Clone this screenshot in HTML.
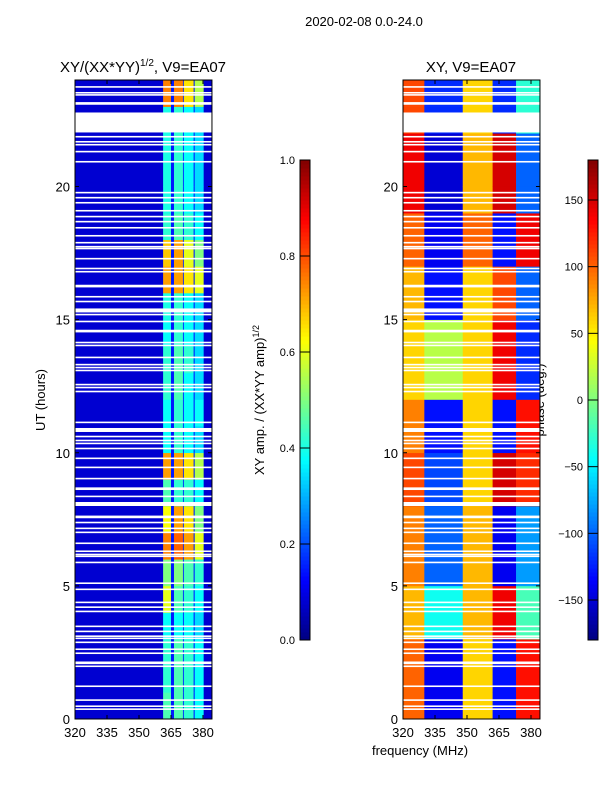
<!DOCTYPE html>
<html><head><meta charset="utf-8">
<style>
body{margin:0;background:#fff;}
svg{display:block;font-family:"Liberation Sans","DejaVu Sans",sans-serif;}
</style></head>
<body>
<svg id="fig" width="600" height="800" viewBox="0 0 600 800" xmlns="http://www.w3.org/2000/svg">
  <rect width="600" height="800" fill="#fff"/>
  <text x="364" y="26" font-size="13" text-anchor="middle">2020-02-08 0.0-24.0</text>
  <text x="143" y="72" font-size="15" text-anchor="middle">XY/(XX*YY)<tspan font-size="10" dy="-6">1/2</tspan><tspan dy="6">, V9=EA07</tspan></text>
  <text x="471" y="72" font-size="15" text-anchor="middle">XY, V9=EA07</text>
  <text transform="translate(45,400) rotate(-90)" font-size="13" text-anchor="middle">UT (hours)</text>
  <text transform="translate(264,400) rotate(-90)" font-size="13" text-anchor="middle">XY amp. / (XX*YY amp)<tspan font-size="9" dy="-5">1/2</tspan></text>
  <text transform="translate(544,400) rotate(-90)" font-size="13" text-anchor="middle">phase (deg.)</text>
  <text x="420" y="755" font-size="13" text-anchor="middle">frequency (MHz)</text>
  <g id="left"></g>
  <g id="right"></g>
  <g id="cb1"></g>
  <g id="cb2"></g>
</svg>
<script>
// ---- data ----
const xTicks = [320, 335, 350, 365, 380];
const yTicks = [0, 5, 10, 15, 20];
const ampTicks = [0.0, 0.2, 0.4, 0.6, 0.8, 1.0];
const phaseTicks = [-150, -100, -50, 0, 50, 100, 150];
const hours = [0,1,2,3,4,5,6,7,8,9,10,11,12,13,14,15,16,17,18,19,20,21,22,23];
// amplitude bands (MHz edges)
const ampBandEdges = [[361.3,365],[366.4,370.6],[371,375.6],[376.1,380.3]];
const ampBand1 = [.45,.42,.42,.38,.6,.5,.75,.62,.45,.72,.38,.38,.42,.42,.38,.4,.72,.68,.42,.4,.4,.4,.4,.75];
const ampBand2 = [.45,.45,.45,.38,.45,.5,.78,.72,.42,.72,.42,.42,.45,.45,.42,.42,.72,.72,.45,.42,.42,.42,.42,.75];
const ampBand3 = [.42,.42,.42,.38,.42,.45,.72,.65,.42,.65,.38,.38,.38,.42,.38,.38,.65,.6,.42,.38,.38,.38,.38,.65];
const ampBand4 = [.38,.38,.38,.34,.38,.42,.6,.5,.38,.55,.34,.38,.34,.34,.34,.34,.6,.5,.38,.34,.34,.34,.34,.55];
const ampBackground = 0.08;
const ampGap = 0.15;
// phase regions (MHz edges)
const phaseRegionEdges = [[320,330],[330,348],[348,362],[362,373],[373,384.2]];
const phaseA = [100,100,100,70,70,90,90,90,110,110,90,90,60,60,60,70,70,100,100,140,140,140,110,110];
const phaseB = [-140,-140,-140,-40,-40,-100,-100,-100,-110,-110,-130,-130,20,20,20,-130,-130,-140,-140,-150,-150,-150,-120,-120];
const phaseC = [60,60,60,70,70,70,70,70,60,60,60,60,60,60,60,60,60,100,100,70,70,70,60,60];
const phaseD = [-130,-130,-130,140,140,-140,-140,-140,150,150,-130,-130,140,140,140,110,110,-130,-130,150,150,150,-120,-120];
const phaseE = [130,130,130,-20,-20,-80,-80,-80,120,120,130,130,-120,-120,-120,-100,-100,140,140,-100,-100,-100,-30,-30];
// flagged (blank) time intervals: start hour, duration
const flagStart = [23.71,23.49,23.41,23.11,23.07,22.03,21.84,21.65,21.54,21.28,20.90,19.74,19.55,19.36,19.06,18.84,18.65,18.42,18.12,17.86,17.71,17.64,17.26,16.89,16.77,16.25,16.21,15.83,15.65,15.27,15.16,14.90,14.56,14.52,14.11,14.0,13.55,13.28,13.17,13.06,12.53,12.42,12.27,11.11,10.78,10.58,10.43,10.32,10.13,9.76,9.42,9.0,8.6,8.33,8.0,7.58,7.54,7.35,7.13,6.98,6.57,6.27,6.15,6.08,5.85,5.07,4.84,4.35,4.17,4.01,3.45,3.26,3.08,3.0,2.85,2.59,2.44,2.06,1.95,1.2,0.68,0.45,0.34];
const flagDur = [.06,.06,.06,.06,.06,.75,.06,.06,.06,.06,.06,.06,.06,.06,.06,.06,.06,.06,.06,.06,.06,.06,.06,.06,.06,.06,.06,.06,.06,.15,.06,.06,.06,.06,.06,.06,.06,.06,.06,.06,.06,.06,.06,.06,.15,.06,.06,.06,.06,.06,.06,.06,.1,.06,.15,.06,.06,.06,.06,.06,.06,.06,.06,.06,.06,.06,.06,.06,.06,.06,.06,.06,.06,.06,.06,.06,.06,.1,.06,.06,.06,.06,.06];

// ---- scales ----
const NS = "http://www.w3.org/2000/svg";
const yTop = 80, yBot = 719;
const yScale = h => yBot - (h/24)*(yBot-yTop);
const pxPerMHz = 32/15;
const xScaleL = f => 75 + (f-320)*pxPerMHz;
const xScaleR = f => 403 + (f-320)*pxPerMHz;
const fMax = 384.2;

function jet(v){
  v = Math.max(0, Math.min(1, v));
  const c = x => Math.round(255*Math.max(0, Math.min(1, x)));
  const r = c(Math.min(4*v-1.5, -4*v+4.5));
  const g = c(Math.min(4*v-0.5, -4*v+3.5));
  const b = c(Math.min(4*v+0.5, -4*v+2.5));
  return `rgb(${r},${g},${b})`;
}
function el(tag, attrs, parent){
  const e = document.createElementNS(NS, tag);
  for (const k in attrs) e.setAttribute(k, attrs[k]);
  parent.appendChild(e);
  return e;
}
function addText(parent, x, y, s, anchor){
  const t = el('text', {x:x, y:y, 'font-size':13, 'text-anchor':anchor}, parent);
  t.textContent = s;
  return t;
}

function drawPanel(g, xs, name){
  const frame = el('rect', {x:xs(320), y:yTop, width:xs(fMax)-xs(320), height:yBot-yTop, fill:'none', stroke:'#000', 'stroke-width':1}, g);
  
  
  xTicks.forEach(f => {
    const x = xs(f);
    el('line', {x1:x, x2:x, y1:yBot, y2:yBot-4, stroke:'#000'}, g);
    el('line', {x1:x, x2:x, y1:yTop, y2:yTop+4, stroke:'#000'}, g);
    const t = addText(g, x, yBot+18, String(f), 'middle');
    
    
  });
  yTicks.forEach(h => {
    const y = yScale(h);
    el('line', {x1:xs(320), x2:xs(320)+4, y1:y, y2:y, stroke:'#000'}, g);
    el('line', {x1:xs(fMax), x2:xs(fMax)-4, y1:y, y2:y, stroke:'#000'}, g);
    const t = addText(g, xs(320)-5, y+5, String(h), 'end');
    
    
  });
}

function drawFlags(g, xs){
  flagStart.forEach((h, i) => {
    const y1 = yScale(h + flagDur[i]), y2 = yScale(h);
    const r = el('rect', {x:xs(320), y:y1, width:xs(fMax)-xs(320), height:Math.max(1.3, y2-y1), fill:'#fff'}, g);
    
    
  });
}

// left amplitude panel
const L = document.getElementById('left');
el('rect', {x:xScaleL(320), y:yTop, width:xScaleL(fMax)-xScaleL(320), height:yBot-yTop, fill:jet(ampBackground)}, L);
const ampBands = [ampBand1, ampBand2, ampBand3, ampBand4];
el('rect', {x:xScaleL(ampBandEdges[0][0]), y:yTop, width:xScaleL(ampBandEdges[3][1])-xScaleL(ampBandEdges[0][0]), height:yBot-yTop, fill:jet(ampGap)}, L);
ampBands.forEach((band, bi) => {
  const [f0, f1] = ampBandEdges[bi];
  hours.forEach((h, i) => {
    const c = el('rect', {x:xScaleL(f0), y:yScale(h+1), width:xScaleL(f1)-xScaleL(f0), height:yScale(h)-yScale(h+1)+0.3, fill:jet(band[i])}, L);
    
    
  });
});
drawFlags(L, xScaleL);
drawPanel(L, xScaleL, 'left');

// right phase panel
const R = document.getElementById('right');
const phaseRegions = [phaseA, phaseB, phaseC, phaseD, phaseE];
phaseRegions.forEach((reg, ri) => {
  const [f0, f1] = phaseRegionEdges[ri];
  hours.forEach((h, i) => {
    const c = el('rect', {x:xScaleR(f0), y:yScale(h+1), width:xScaleR(f1)-xScaleR(f0)+0.3, height:yScale(h)-yScale(h+1)+0.3, fill:jet((reg[i]+180)/360)}, R);
    
    
  });
});
drawFlags(R, xScaleR);
drawPanel(R, xScaleR, 'right');

// colorbars
function colorbar(gid, x, ticks, vmin, vmax, fmt, name){
  const g = document.getElementById(gid);
  const top = 160, bot = 640, n = 120;
  for (let i = 0; i < n; i++){
    const v = i/n;
    el('rect', {x:x, y:bot-(i+1)*(bot-top)/n, width:10, height:(bot-top)/n+0.5, fill:jet(v+0.5/n)}, g);
  }
  el('rect', {x:x, y:top, width:10, height:bot-top, fill:'none', stroke:'#000'}, g);
  ticks.forEach(v => {
    const y = bot - (v-vmin)/(vmax-vmin)*(bot-top);
    el('line', {x1:x, x2:x+10, y1:y, y2:y, stroke:'#000'}, g);
    const t = addText(g, x-5, y+4, fmt(v), 'end');
    t.setAttribute('font-size', 11);
    
    
  });
}
colorbar('cb1', 300, ampTicks, 0, 1, v => v.toFixed(1), 'amp-colorbar');
colorbar('cb2', 588, phaseTicks, -180, 180, v => (v<0?'\u2212'+(-v):String(v)), 'phase-colorbar');
</script>
</body></html>
